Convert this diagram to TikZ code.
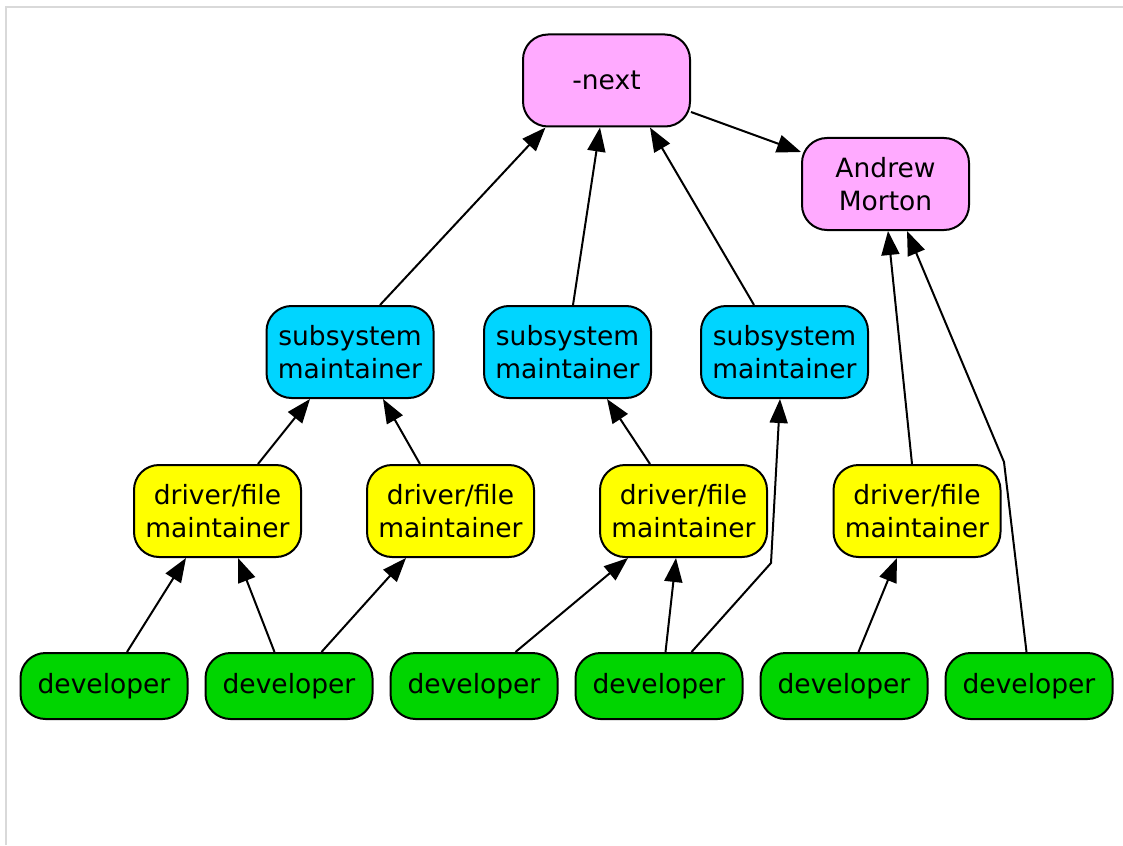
\documentclass[tikz,border=0pt]{standalone}
\usepackage{fontspec}
\setmainfont{DejaVu Sans}
\usepackage{tikz}
\usetikzlibrary{arrows.meta,positioning}
\definecolor{nextpink}{RGB}{255,170,255}
\definecolor{subcyan}{RGB}{0,213,255}
\definecolor{drvyellow}{RGB}{255,255,0}
\definecolor{devgreen}{RGB}{0,213,0}
\tikzset{box/.style={draw=black,line width=2pt,rounded corners=25pt,
         minimum width=167pt,inner sep=0pt,align=center,
         font=\fontsize{26.5pt}{33pt}\selectfont},
         top/.style={box,fill=nextpink,minimum height=92pt},
         sub/.style={box,fill=subcyan,minimum height=92pt},
         drv/.style={box,fill=drvyellow,minimum height=92pt},
         dev/.style={box,fill=devgreen,minimum height=66pt}}
\tikzstyle{ptr} = [draw, line width=2pt, -{Triangle[length=24pt,width=18pt]}]

\begin{document}
\begin{tikzpicture}[x=1pt,y=-1pt]
    \useasboundingbox (0,0) rectangle (1123,845);
    \draw[black!15,line width=1.5pt] (6,845) -- (6,7) -- (1123,7);

    \node[top] (next) at (606.5,80.5) {-next};
    \node[top] (akpm) at (885.5,184) {Andrew\\Morton};

    \node[sub] (sub1) at (350,352) {subsystem\\maintainer};
    \node[sub] (sub2) at (567.5,352) {subsystem\\maintainer};
    \node[sub] (sub3) at (784.5,352) {subsystem\\maintainer};

    \node[drv] (drv1) at (217.5,511) {driver/file\\maintainer};
    \node[drv] (drv2) at (450.5,511) {driver/file\\maintainer};
    \node[drv] (drv3) at (683.5,511) {driver/file\\maintainer};
    \node[drv] (drv4) at (917,511) {driver/file\\maintainer};

    \node[dev] (dev1) at (104,686) {developer};
    \node[dev, right=16pt of dev1] (dev2) {developer};
    \node[dev, right=16pt of dev2] (dev3) {developer};
    \node[dev, right=16pt of dev3] (dev4) {developer};
    \node[dev, right=16pt of dev4] (dev5) {developer};
    \node[dev, right=16pt of dev5] (dev6) {developer};

    \coordinate (bend4) at (771,563);
    \coordinate (bend6) at (1004,462);

    % up to -next and Andrew
    \path[ptr] ([xshift=30pt]sub1.north) -- ([xshift=-61pt]next.south);
    \path[ptr] ([xshift=5.5pt]sub2.north) -- ([xshift=-6.5pt]next.south);
    \path[ptr] ([xshift=-30.5pt]sub3.north) -- ([xshift=43.5pt]next.south);
    \path[ptr] ([yshift=-31.5pt]next.east) -- ([yshift=32pt]akpm.west);
    \path[ptr] ([xshift=-5pt]drv4.north) -- ([xshift=2.5pt]akpm.south);
    \path[ptr] ([xshift=-2.5pt]dev6.north) -- (bend6) -- ([xshift=21.5pt]akpm.south);

    % up to subsystem maintainers
    \path[ptr] ([xshift=40.5pt]drv1.north) -- ([xshift=-40pt]sub1.south);
    \path[ptr] ([xshift=-30.5pt]drv2.north) -- ([xshift=33pt]sub1.south);
    \path[ptr] ([xshift=-33.5pt]drv3.north) -- ([xshift=39.5pt]sub2.south);
    \path[ptr] ([xshift=32.5pt]dev4.north) -- (bend4) -- ([xshift=-4.5pt]sub3.south);

    % up to driver/file maintainers
    \path[ptr] ([xshift=23pt]dev1.north) -- ([xshift=-31.5pt]drv1.south);
    \path[ptr] ([xshift=-14.5pt]dev2.north) -- ([xshift=20.5pt]drv1.south);
    \path[ptr] ([xshift=32.5pt]dev2.north) -- ([xshift=-44.5pt]drv2.south);
    \path[ptr] ([xshift=41.5pt]dev3.north) -- ([xshift=-55.5pt]drv3.south);
    \path[ptr] ([xshift=6.5pt]dev4.north) -- ([xshift=-7.5pt]drv3.south);
    \path[ptr] ([xshift=14.5pt]dev5.north) -- ([xshift=-20pt]drv4.south);
\end{tikzpicture}
\end{document}
